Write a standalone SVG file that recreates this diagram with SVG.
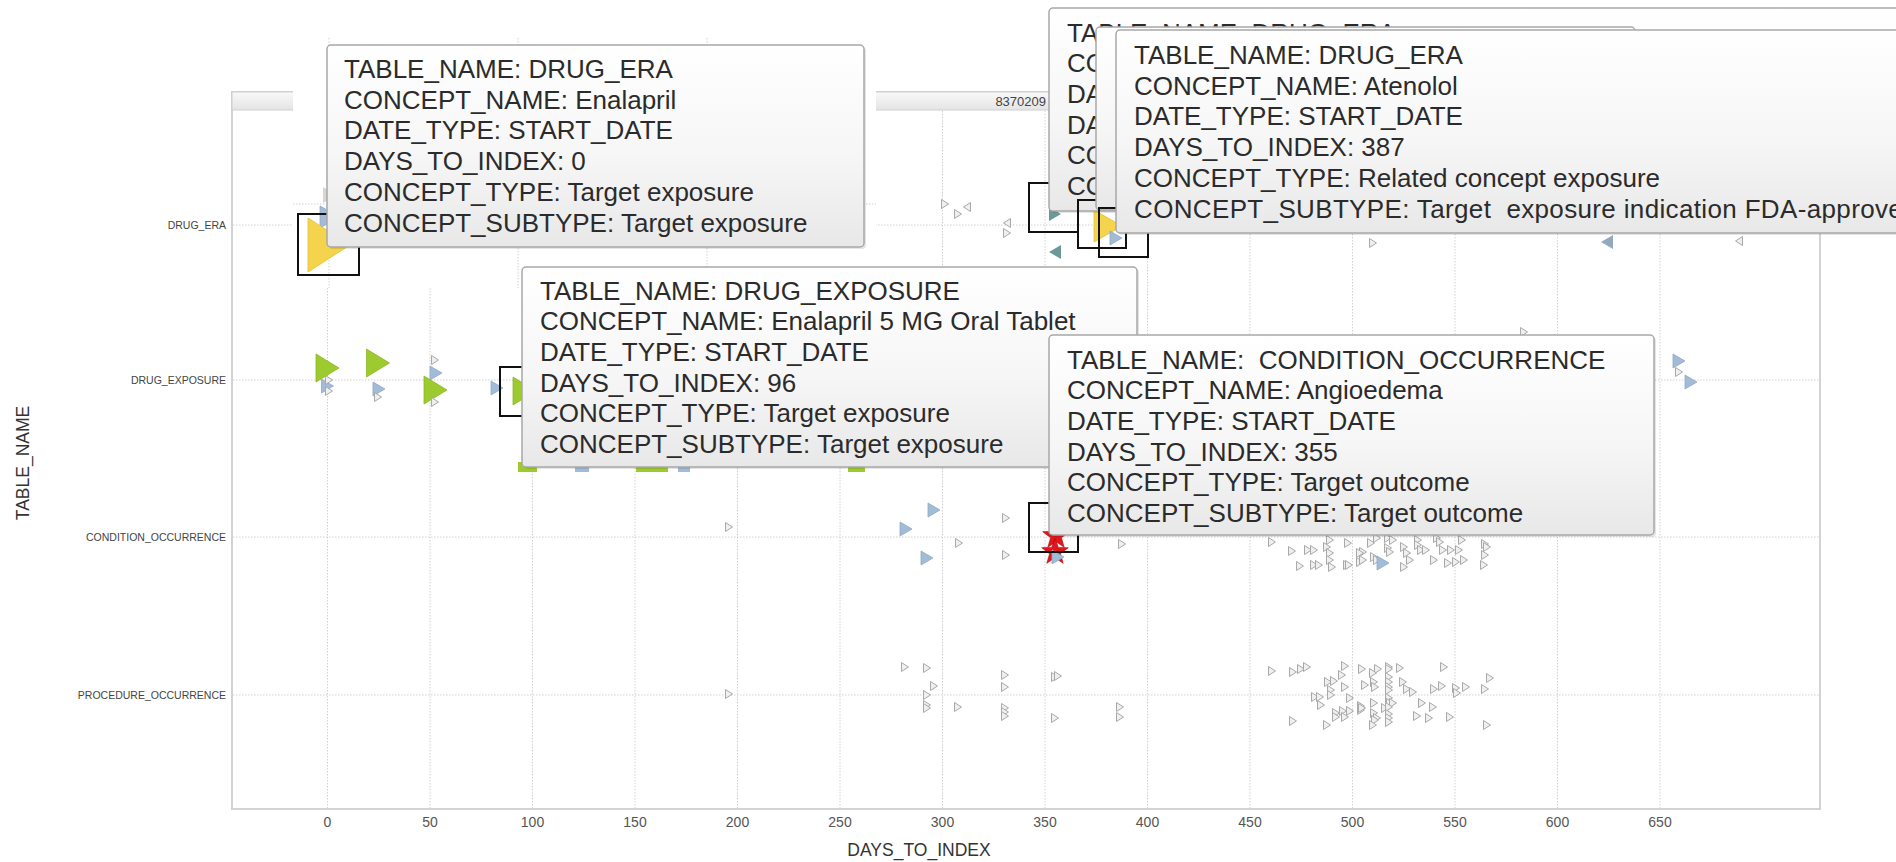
<svg xmlns="http://www.w3.org/2000/svg" width="1896" height="862" viewBox="0 0 1896 862">
<style>
  text { font-family: "Liberation Sans", Arial, sans-serif; }
  .grid { stroke:#d0d0d0; stroke-width:1; stroke-dasharray:1.5 1.5; fill:none; }
  .frame { stroke:#d3d3d3; stroke-width:2; fill:#ffffff; }
  .tick { font-size:14px; fill:#555555; text-anchor:middle; }
  .row { font-size:10.5px; fill:#444444; text-anchor:end; }
  .title { font-size:17.5px; fill:#333333; text-anchor:middle; }
  .gray { fill:#efefef; stroke:#a9a9a9; stroke-width:1; }
  .blue { fill:#a2bbd6; stroke:#8fa9c5; stroke-width:0.8; }
  .green { fill:#9dca2e; stroke:#8cb725; stroke-width:0.8; }
  .teal { fill:#6d9898; }
  .slate { fill:#94a9c0; }
  .yellow { fill:#f4d44c; stroke:#e2c035; stroke-width:0.8; }
  .star { fill:#e2141c; stroke:#a80d12; stroke-width:0.6; }
  .hl { fill:none; stroke:#111111; stroke-width:2; }
  .tip { fill:url(#tipFill); stroke:#a8a8a8; stroke-width:1.5; }
  .tipShadow { fill:#000000; opacity:0.1; }
  .tt { font-size:26px; fill:#2b2b2b; }
</style>
<defs>
  <linearGradient id="tipFill" x1="0" y1="0" x2="0" y2="1">
    <stop offset="0" stop-color="#ffffff"/>
    <stop offset="0.55" stop-color="#f6f6f6"/>
    <stop offset="1" stop-color="#e8e8e8"/>
  </linearGradient>
  <linearGradient id="barFill" x1="0" y1="0" x2="0" y2="1">
    <stop offset="0" stop-color="#f9f9f9"/>
    <stop offset="1" stop-color="#e4e4e4"/>
  </linearGradient>
  <!-- marker shapes -->
  <path id="tr" d="M-3.5,-4.5 L3.5,0 L-3.5,4.5 Z"/>
  <path id="tl" d="M3.5,-4.5 L-3.5,0 L3.5,4.5 Z"/>
  <path id="sr" d="M-6,-7 L6,0 L-6,7 Z"/>
  <path id="sl" d="M6,-7 L-6,0 L6,7 Z"/>
  <path id="br" d="M-11.5,-14 L11.5,0 L-11.5,14 Z"/>
  <path id="star" d="M0,-14 L3.35,-4.61 L13.31,-4.33 L5.42,1.76 L8.23,11.33 L0,5.7 L-8.23,11.33 L-5.42,1.76 L-13.31,-4.33 L-3.35,-4.61 Z"/>
</defs>

<rect x="0" y="0" width="1896" height="862" fill="#ffffff"/>

<!-- plot panel with facet header -->
<g id="panel">
  <rect class="frame" x="232" y="92" width="1588" height="717"/>
  <rect x="232" y="92" width="1588" height="18" fill="url(#barFill)" stroke="#d0d0d0" stroke-width="1"/>
  <text x="1046" y="105.5" font-size="13" fill="#444444" text-anchor="end">8370209</text>
</g>

<!-- grid -->
<g id="grid">
  <line class="grid" x1="327.5" y1="111" x2="327.5" y2="808"/>
  <line class="grid" x1="430" y1="111" x2="430" y2="808"/>
  <line class="grid" x1="532.5" y1="111" x2="532.5" y2="808"/>
  <line class="grid" x1="635" y1="111" x2="635" y2="808"/>
  <line class="grid" x1="737.5" y1="111" x2="737.5" y2="808"/>
  <line class="grid" x1="840" y1="111" x2="840" y2="808"/>
  <line class="grid" x1="942.5" y1="111" x2="942.5" y2="808"/>
  <line class="grid" x1="1045" y1="111" x2="1045" y2="808"/>
  <line class="grid" x1="1147.5" y1="111" x2="1147.5" y2="808"/>
  <line class="grid" x1="1250" y1="111" x2="1250" y2="808"/>
  <line class="grid" x1="1352.5" y1="111" x2="1352.5" y2="808"/>
  <line class="grid" x1="1455" y1="111" x2="1455" y2="808"/>
  <line class="grid" x1="1557.5" y1="111" x2="1557.5" y2="808"/>
  <line class="grid" x1="1660" y1="111" x2="1660" y2="808"/>
  <line class="grid" x1="233" y1="225" x2="1819" y2="225"/>
  <line class="grid" x1="233" y1="380" x2="1819" y2="380"/>
  <line class="grid" x1="233" y1="537" x2="1819" y2="537"/>
  <line class="grid" x1="233" y1="695" x2="1819" y2="695"/>
</g>

<!-- axes labels -->
<g id="axes">
  <text class="tick" x="327.5" y="827">0</text>
  <text class="tick" x="430" y="827">50</text>
  <text class="tick" x="532.5" y="827">100</text>
  <text class="tick" x="635" y="827">150</text>
  <text class="tick" x="737.5" y="827">200</text>
  <text class="tick" x="840" y="827">250</text>
  <text class="tick" x="942.5" y="827">300</text>
  <text class="tick" x="1045" y="827">350</text>
  <text class="tick" x="1147.5" y="827">400</text>
  <text class="tick" x="1250" y="827">450</text>
  <text class="tick" x="1352.5" y="827">500</text>
  <text class="tick" x="1455" y="827">550</text>
  <text class="tick" x="1557.5" y="827">600</text>
  <text class="tick" x="1660" y="827">650</text>
  <text class="title" x="919" y="856">DAYS_TO_INDEX</text>
  <text class="title" transform="translate(28.5,463) rotate(-90)">TABLE_NAME</text>
  <text class="row" x="226" y="228.5">DRUG_ERA</text>
  <text class="row" x="226" y="383.5">DRUG_EXPOSURE</text>
  <text class="row" x="226" y="540.5">CONDITION_OCCURRENCE</text>
  <text class="row" x="226" y="698.5">PROCEDURE_OCCURRENCE</text>
</g>

<!-- DRUG_ERA row -->
<g id="row-drug-era">
  <use href="#tr" class="gray" x="945" y="204"/>
  <use href="#tr" class="gray" x="958" y="214"/>
  <use href="#tl" class="gray" x="967" y="207"/>
  <use href="#tl" class="gray" x="1007" y="223"/>
  <use href="#tr" class="gray" x="1007" y="233"/>
  <use href="#tr" class="gray" x="1373" y="243"/>
  <use href="#tl" class="gray" x="1739" y="241"/>
  <use href="#sr" class="teal" x="1055" y="214"/>
  <use href="#sl" class="teal" x="1055" y="252"/>
  <use href="#sl" class="slate" x="1607" y="242"/>
  <polygon class="yellow" points="1094,210 1094,242 1122,226"/>
  <use href="#sr" class="blue" x="1116" y="238"/>
</g>

<!-- DRUG_EXPOSURE row -->
<g id="row-drug-exposure">
  <use href="#br" class="green" x="327.5" y="368"/>
  <use href="#sr" class="blue" x="327.5" y="386"/>
  <use href="#tr" class="gray" x="329" y="380"/>
  <use href="#tr" class="gray" x="329" y="391"/>
  <use href="#br" class="green" x="378" y="363"/>
  <use href="#sr" class="blue" x="379" y="389"/>
  <use href="#tr" class="gray" x="378" y="397"/>
  <use href="#sr" class="blue" x="436" y="373"/>
  <use href="#tr" class="gray" x="435" y="360"/>
  <use href="#br" class="green" x="435.5" y="390"/>
  <use href="#tr" class="gray" x="435" y="402"/>
  <use href="#sr" class="blue" x="497" y="388"/>
  <use href="#tr" class="gray" x="1524" y="332"/>
  <use href="#sr" class="blue" x="1679" y="361"/>
  <use href="#tr" class="gray" x="1679" y="372"/>
  <use href="#sr" class="blue" x="1691" y="382"/>
</g>

<!-- CONDITION_OCCURRENCE row -->
<g id="row-condition">
  <use href="#tr" class="gray" x="729" y="527"/>
  <use href="#sr" class="blue" x="934" y="510"/>
  <use href="#sr" class="blue" x="906" y="529"/>
  <use href="#sr" class="blue" x="927" y="558"/>
  <use href="#tr" class="gray" x="959" y="543"/>
  <use href="#tr" class="gray" x="1006" y="518"/>
  <use href="#tr" class="gray" x="1006" y="555"/>
  <use href="#tr" class="gray" x="1122" y="544"/>
  <use href="#tr" class="gray" x="1272" y="542"/>
  <use href="#tr" class="gray" x="1292" y="551"/>
  <use href="#tr" class="gray" x="1308" y="550"/>
  <use href="#tr" class="gray" x="1314" y="550"/>
  <use href="#tr" class="gray" x="1300" y="566"/>
  <use href="#tr" class="gray" x="1314" y="565"/>
  <use href="#tr" class="gray" x="1319" y="565"/>
  <use href="#tr" class="gray" x="1330" y="540"/>
  <use href="#tr" class="gray" x="1327" y="547"/>
  <use href="#tr" class="gray" x="1330" y="553"/>
  <use href="#tr" class="gray" x="1330" y="560"/>
  <use href="#tr" class="gray" x="1332" y="567"/>
  <use href="#tr" class="gray" x="1347" y="565"/>
  <use href="#tr" class="gray" x="1349" y="565"/>
  <use href="#tr" class="gray" x="1348" y="543"/>
  <use href="#tr" class="gray" x="1363" y="552"/>
  <use href="#tr" class="gray" x="1360" y="553"/>
  <use href="#tr" class="gray" x="1371" y="543"/>
  <use href="#tr" class="gray" x="1377" y="538"/>
  <use href="#tr" class="gray" x="1388" y="538"/>
  <use href="#tr" class="gray" x="1393" y="540"/>
  <use href="#tr" class="gray" x="1374" y="557"/>
  <use href="#tr" class="gray" x="1377" y="560"/>
  <use href="#tr" class="gray" x="1360" y="562"/>
  <use href="#tr" class="gray" x="1363" y="560"/>
  <use href="#tr" class="gray" x="1388" y="548"/>
  <use href="#tr" class="gray" x="1390" y="552"/>
  <use href="#tr" class="gray" x="1404" y="547"/>
  <use href="#tr" class="gray" x="1407" y="553"/>
  <use href="#tr" class="gray" x="1410" y="560"/>
  <use href="#tr" class="gray" x="1404" y="567"/>
  <use href="#tr" class="gray" x="1418" y="540"/>
  <use href="#tr" class="gray" x="1418" y="545"/>
  <use href="#tr" class="gray" x="1421" y="550"/>
  <use href="#tr" class="gray" x="1426" y="550"/>
  <use href="#tr" class="gray" x="1437" y="538"/>
  <use href="#tr" class="gray" x="1440" y="542"/>
  <use href="#tr" class="gray" x="1434" y="560"/>
  <use href="#tr" class="gray" x="1448" y="563"/>
  <use href="#tr" class="gray" x="1456" y="562"/>
  <use href="#tr" class="gray" x="1464" y="560"/>
  <use href="#tr" class="gray" x="1443" y="550"/>
  <use href="#tr" class="gray" x="1451" y="550"/>
  <use href="#tr" class="gray" x="1459" y="550"/>
  <use href="#tr" class="gray" x="1462" y="540"/>
  <use href="#tr" class="gray" x="1485" y="544"/>
  <use href="#tr" class="gray" x="1487" y="547"/>
  <use href="#tr" class="gray" x="1485" y="555"/>
  <use href="#tr" class="gray" x="1484" y="565"/>
  <use href="#sr" class="blue" x="1383" y="563"/>
</g>

<!-- PROCEDURE_OCCURRENCE row -->
<g id="row-procedure">
  <use href="#tr" class="gray" x="729" y="694"/>
  <use href="#tr" class="gray" x="905" y="667"/>
  <use href="#tr" class="gray" x="927" y="668"/>
  <use href="#tr" class="gray" x="934" y="686"/>
  <use href="#tr" class="gray" x="927" y="695"/>
  <use href="#tr" class="gray" x="927" y="705"/>
  <use href="#tr" class="gray" x="927" y="708"/>
  <use href="#tr" class="gray" x="958" y="707"/>
  <use href="#tr" class="gray" x="1005" y="675"/>
  <use href="#tr" class="gray" x="1005" y="687"/>
  <use href="#tr" class="gray" x="1005" y="708"/>
  <use href="#tr" class="gray" x="1005" y="712"/>
  <use href="#tr" class="gray" x="1005" y="716"/>
  <use href="#tr" class="gray" x="1055" y="677"/>
  <use href="#tr" class="gray" x="1058" y="676"/>
  <use href="#tr" class="gray" x="1055" y="718"/>
  <use href="#tr" class="gray" x="1120" y="707"/>
  <use href="#tr" class="gray" x="1120" y="717"/>
  <use href="#tr" class="gray" x="1272" y="671"/>
  <use href="#tr" class="gray" x="1293" y="672"/>
  <use href="#tr" class="gray" x="1301" y="669"/>
  <use href="#tr" class="gray" x="1307" y="667"/>
  <use href="#tr" class="gray" x="1345" y="666"/>
  <use href="#tr" class="gray" x="1362" y="669"/>
  <use href="#tr" class="gray" x="1378" y="669"/>
  <use href="#tr" class="gray" x="1389" y="667"/>
  <use href="#tr" class="gray" x="1389" y="669"/>
  <use href="#tr" class="gray" x="1400" y="668"/>
  <use href="#tr" class="gray" x="1444" y="667"/>
  <use href="#tr" class="gray" x="1342" y="675"/>
  <use href="#tr" class="gray" x="1373" y="673"/>
  <use href="#tr" class="gray" x="1490" y="678"/>
  <use href="#tr" class="gray" x="1328" y="682"/>
  <use href="#tr" class="gray" x="1334" y="681"/>
  <use href="#tr" class="gray" x="1345" y="687"/>
  <use href="#tr" class="gray" x="1365" y="685"/>
  <use href="#tr" class="gray" x="1374" y="682"/>
  <use href="#tr" class="gray" x="1375" y="687"/>
  <use href="#tr" class="gray" x="1389" y="677"/>
  <use href="#tr" class="gray" x="1389" y="682"/>
  <use href="#tr" class="gray" x="1389" y="687"/>
  <use href="#tr" class="gray" x="1389" y="690"/>
  <use href="#tr" class="gray" x="1403" y="682"/>
  <use href="#tr" class="gray" x="1407" y="689"/>
  <use href="#tr" class="gray" x="1413" y="692"/>
  <use href="#tr" class="gray" x="1434" y="689"/>
  <use href="#tr" class="gray" x="1442" y="686"/>
  <use href="#tr" class="gray" x="1456" y="688"/>
  <use href="#tr" class="gray" x="1457" y="693"/>
  <use href="#tr" class="gray" x="1466" y="687"/>
  <use href="#tr" class="gray" x="1485" y="689"/>
  <use href="#tr" class="gray" x="1331" y="690"/>
  <use href="#tr" class="gray" x="1331" y="695"/>
  <use href="#tr" class="gray" x="1315" y="697"/>
  <use href="#tr" class="gray" x="1320" y="697"/>
  <use href="#tr" class="gray" x="1350" y="698"/>
  <use href="#tr" class="gray" x="1389" y="698"/>
  <use href="#tr" class="gray" x="1390" y="703"/>
  <use href="#tr" class="gray" x="1393" y="703"/>
  <use href="#tr" class="gray" x="1321" y="705"/>
  <use href="#tr" class="gray" x="1374" y="703"/>
  <use href="#tr" class="gray" x="1422" y="703"/>
  <use href="#tr" class="gray" x="1433" y="707"/>
  <use href="#tr" class="gray" x="1361" y="706"/>
  <use href="#tr" class="gray" x="1361" y="710"/>
  <use href="#tr" class="gray" x="1362" y="708"/>
  <use href="#tr" class="gray" x="1385" y="708"/>
  <use href="#tr" class="gray" x="1389" y="707"/>
  <use href="#tr" class="gray" x="1343" y="711"/>
  <use href="#tr" class="gray" x="1350" y="711"/>
  <use href="#tr" class="gray" x="1336" y="713"/>
  <use href="#tr" class="gray" x="1336" y="717"/>
  <use href="#tr" class="gray" x="1345" y="717"/>
  <use href="#tr" class="gray" x="1374" y="713"/>
  <use href="#tr" class="gray" x="1377" y="718"/>
  <use href="#tr" class="gray" x="1375" y="720"/>
  <use href="#tr" class="gray" x="1389" y="714"/>
  <use href="#tr" class="gray" x="1389" y="718"/>
  <use href="#tr" class="gray" x="1389" y="722"/>
  <use href="#tr" class="gray" x="1417" y="716"/>
  <use href="#tr" class="gray" x="1429" y="718"/>
  <use href="#tr" class="gray" x="1450" y="717"/>
  <use href="#tr" class="gray" x="1293" y="721"/>
  <use href="#tr" class="gray" x="1327" y="725"/>
  <use href="#tr" class="gray" x="1373" y="725"/>
  <use href="#tr" class="gray" x="1487" y="725"/>
</g>

<!-- Enalapril drug era: highlighted point and its tooltip -->
<g id="focus-enalapril-era">
  <rect x="293" y="38" width="583" height="250" fill="#ffffff"/>
  <line class="grid" x1="293" y1="204" x2="876" y2="204"/>
  <line class="grid" x1="329" y1="38" x2="329" y2="288"/>
  <line class="grid" x1="518" y1="38" x2="518" y2="288"/>
  <line class="grid" x1="707" y1="38" x2="707" y2="288"/>
  <polygon points="323,187 323,203 337,195" fill="#d6d6d6"/>
  <polygon class="blue" points="320,206 320,228 340,217"/>
  <polygon class="yellow" points="308,218 308,272 350,245"/>
  <rect class="hl" x="298" y="214" width="61" height="61"/>
</g>
<g id="tooltip-enalapril-era">
  <rect class="tipShadow" x="329" y="47" width="537" height="202" rx="4"/>
  <rect class="tip" x="327" y="45" width="537" height="202" rx="4"/>
  <text class="tt" x="344" y="78" font-size="26.3">
    <tspan x="344">TABLE_NAME: DRUG_ERA</tspan>
    <tspan x="344" dy="30.7">CONCEPT_NAME: Enalapril</tspan>
    <tspan x="344" dy="30.7">DATE_TYPE: START_DATE</tspan>
    <tspan x="344" dy="30.7">DAYS_TO_INDEX: 0</tspan>
    <tspan x="344" dy="30.7">CONCEPT_TYPE: Target exposure</tspan>
    <tspan x="344" dy="30.7">CONCEPT_SUBTYPE: Target exposure</tspan>
  </text>
</g>

<!-- Enalapril 5 MG tablet exposure: highlighted point and its tooltip -->
<g id="focus-enalapril-exposure">
  <polygon class="green" points="513,377 513,405 536,391"/>
  <rect class="hl" x="500" y="367" width="49" height="49"/>
  <rect x="518" y="462" width="19" height="10" fill="#9dca2e"/>
  <rect x="575" y="463" width="14" height="9" fill="#a2bbd6"/>
  <rect x="636" y="463" width="32" height="9" fill="#9dca2e"/>
  <rect x="678" y="463" width="12" height="9" fill="#a2bbd6"/>
  <rect x="848" y="463" width="17" height="9" fill="#9dca2e"/>
</g>
<g id="tooltip-enalapril-exposure">
  <rect class="tipShadow" x="524" y="269" width="615" height="200" rx="4"/>
  <rect class="tip" x="522" y="267" width="615" height="200" rx="4"/>
  <text class="tt" x="540" y="299.5" font-size="26.5">
    <tspan x="540">TABLE_NAME: DRUG_EXPOSURE</tspan>
    <tspan x="540" dy="30.7">CONCEPT_NAME: Enalapril 5 MG Oral Tablet</tspan>
    <tspan x="540" dy="30.7">DATE_TYPE: START_DATE</tspan>
    <tspan x="540" dy="30.7">DAYS_TO_INDEX: 96</tspan>
    <tspan x="540" dy="30.7">CONCEPT_TYPE: Target exposure</tspan>
    <tspan x="540" dy="30.7">CONCEPT_SUBTYPE: Target exposure</tspan>
  </text>
</g>

<!-- stacked drug era tooltips around day 355-387 -->
<g id="focus-era-a">
  <rect class="hl" x="1029" y="183" width="49" height="49"/>
</g>
<g id="tooltip-era-a">
  <rect class="tipShadow" x="1051" y="10" width="900" height="203" rx="4"/>
  <rect class="tip" x="1049" y="8" width="900" height="203" rx="4"/>
  <text class="tt" x="1067" y="41.5">
    <tspan x="1067">TABLE_NAME: DRUG_ERA</tspan>
    <tspan x="1067" dy="30.7">CO</tspan>
    <tspan x="1067" dy="30.7">DA</tspan>
    <tspan x="1067" dy="30.7">DA</tspan>
    <tspan x="1067" dy="30.7">CO</tspan>
    <tspan x="1067" dy="30.7">CO</tspan>
  </text>
</g>
<g id="focus-era-b">
  <rect class="hl" x="1078" y="200" width="48" height="48"/>
</g>
<g id="tooltip-era-b">
  <rect class="tip" x="1096" y="27" width="539" height="183" rx="4"/>
</g>
<g id="focus-atenolol">
  <rect class="hl" x="1099" y="208" width="49" height="49"/>
</g>
<g id="tooltip-atenolol">
  <rect class="tipShadow" x="1118" y="32" width="850" height="203" rx="4"/>
  <rect class="tip" x="1116" y="30" width="850" height="203" rx="4"/>
  <text class="tt" x="1134" y="64" font-size="26.5" xml:space="preserve"><tspan x="1134">TABLE_NAME: DRUG_ERA</tspan><tspan x="1134" dy="30.7">CONCEPT_NAME: Atenolol</tspan><tspan x="1134" dy="30.7">DATE_TYPE: START_DATE</tspan><tspan x="1134" dy="30.7">DAYS_TO_INDEX: 387</tspan><tspan x="1134" dy="30.7">CONCEPT_TYPE: Related concept exposure</tspan><tspan x="1134" dy="30.7" letter-spacing="0.35">CONCEPT_SUBTYPE: Target  exposure indication FDA-approved</tspan></text>
</g>

<!-- Angioedema condition: highlighted point and its tooltip -->
<g id="focus-angioedema">
  <use href="#star" class="star" x="1056" y="536"/>
  <use href="#star" class="star" x="1055" y="552"/>
  <use href="#sr" class="blue" x="1058" y="557"/>
  <rect class="hl" x="1029" y="503" width="49" height="49"/>
</g>
<g id="tooltip-angioedema">
  <rect class="tipShadow" x="1051" y="337" width="605" height="200" rx="4"/>
  <rect class="tip" x="1049" y="335" width="605" height="200" rx="4"/>
  <text class="tt" x="1067" y="368.5" xml:space="preserve"><tspan x="1067">TABLE_NAME:  CONDITION_OCCURRENCE</tspan><tspan x="1067" dy="30.7">CONCEPT_NAME: Angioedema</tspan><tspan x="1067" dy="30.7">DATE_TYPE: START_DATE</tspan><tspan x="1067" dy="30.7">DAYS_TO_INDEX: 355</tspan><tspan x="1067" dy="30.7">CONCEPT_TYPE: Target outcome</tspan><tspan x="1067" dy="30.7">CONCEPT_SUBTYPE: Target outcome</tspan></text>
</g>
</svg>
